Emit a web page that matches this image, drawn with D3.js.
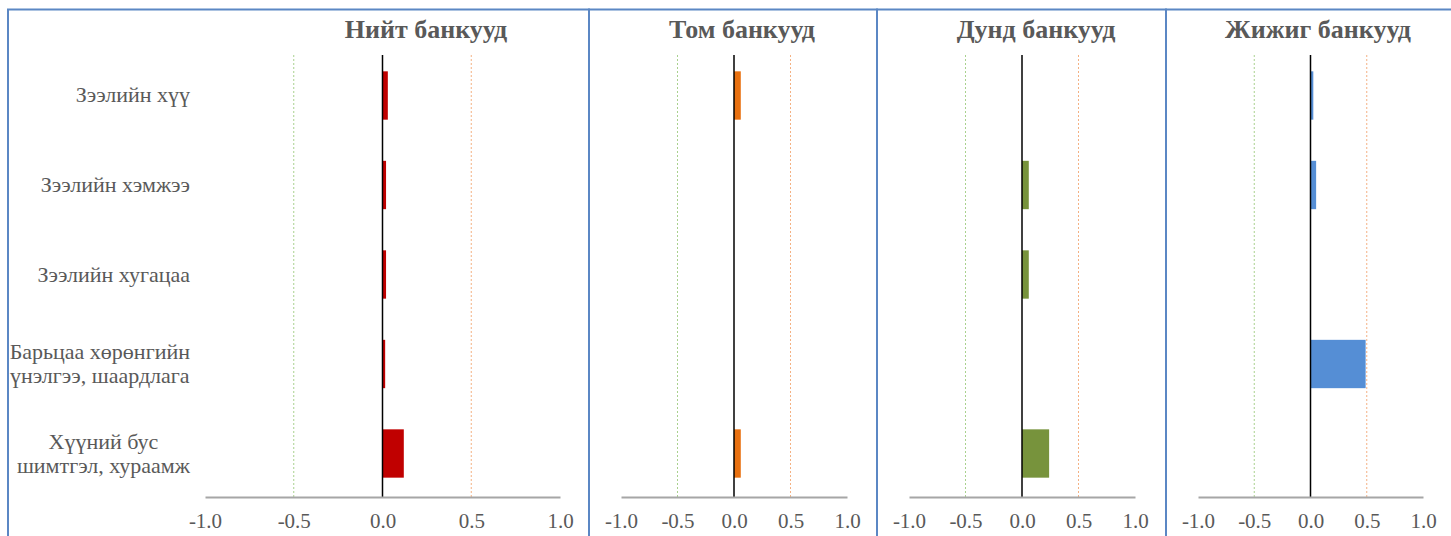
<!DOCTYPE html>
<html><head><meta charset="utf-8">
<script src="https://cdn.jsdelivr.net/npm/d3@7"></script>
<style>body{margin:0;background:#fff}svg{display:block}</style>
</head><body>
<svg id="c" width="1451" height="536"></svg>
<script>
const categories = ["Зээлийн хүү","Зээлийн хэмжээ","Зээлийн хугацаа","Барьцаа хөрөнгийн\nүнэлгээ, шаардлага","Хүүний бус\nшимтгэл, хураамж"];
const seriesNames = ["Нийт банкууд","Том банкууд","Дунд банкууд","Жижиг банкууд"];
const totalBanks  = [0.03, 0.02, 0.02, 0.015, 0.12];
const largeBanks  = [0.06, 0, 0, 0, 0.06];
const mediumBanks = [0, 0.06, 0.06, 0, 0.24];
const smallBanks  = [0.025, 0.05, 0, 0.49, 0];
const tickValues = [-1, -0.5, 0, 0.5, 1];
const tickLabels = ["-1.0","-0.5","0.0","0.5","1.0"];

const colors = ["#c00000","#e8700f","#77933c","#558ed5"];
const panels = [
  {name: seriesNames[0], values: totalBanks,  color: colors[0], range:[205,560], box:[8,589],   titleX:426},
  {name: seriesNames[1], values: largeBanks,  color: colors[1], range:[621,847], box:[589,877], titleX:742},
  {name: seriesNames[2], values: mediumBanks, color: colors[2], range:[909,1135], box:[877,1166], titleX:1036},
  {name: seriesNames[3], values: smallBanks,  color: colors[3], range:[1198,1423], box:[1166,1460], titleX:1318}
];

const svg = d3.select("#c");
const plotTop = 55, plotBottom = 497;
const y = d3.scaleBand().domain(categories).range([52, plotBottom]).paddingInner(0.46).paddingOuter(0.216);
const serif = "'Liberation Serif','Times New Roman',serif";

panels.forEach(p => {
  svg.append("rect").attr("x", p.box[0]).attr("y", 9.5).attr("width", p.box[1]-p.box[0]).attr("height", 600)
    .attr("fill","none").attr("stroke","#5b87c4").attr("stroke-width",2);
});

panels.forEach(p => {
  const x = d3.scaleLinear().domain([-1,1]).range(p.range);
  const g = svg.append("g");
  g.append("line").attr("x1", x(-0.5)).attr("x2", x(-0.5)).attr("y1", plotTop).attr("y2", plotBottom)
    .attr("stroke","#a9d18e").attr("stroke-width",1).attr("stroke-dasharray","2,2");
  g.append("line").attr("x1", x(0.5)).attr("x2", x(0.5)).attr("y1", plotTop).attr("y2", plotBottom)
    .attr("stroke","#f4b183").attr("stroke-width",1).attr("stroke-dasharray","2,2");
  g.selectAll("rect.bar").data(p.values.map((v,i)=>({v, c:categories[i]}))).join("rect")
    .attr("class","bar")
    .attr("x", d => x(Math.min(0,d.v))).attr("width", d => Math.abs(x(d.v)-x(0)))
    .attr("y", d => y(d.c)).attr("height", y.bandwidth())
    .attr("fill", p.color);
  g.append("line").attr("x1", x(0)).attr("x2", x(0)).attr("y1", plotTop).attr("y2", plotBottom)
    .attr("stroke","#000").attr("stroke-width",1.5);
  const ax = g.append("g").attr("transform", `translate(0,${plotBottom})`)
    .call(d3.axisBottom(x).tickValues(tickValues).tickSize(0).tickPadding(16)
      .tickFormat((d,i)=>tickLabels[i]));
  ax.select(".domain").attr("stroke","#a6a6a6").attr("stroke-width",2);
  ax.selectAll("text").attr("font-family", serif).attr("font-size", 21).attr("fill","#595959");
  svg.append("text").attr("x", p.titleX).attr("y", 38).attr("text-anchor","middle")
    .attr("font-family", serif).attr("font-weight","bold").attr("font-size", 26).attr("fill","#595959")
    .text(p.name);
});

const labelRight = 190;
categories.forEach(c => {
  const lines = c.split("\n");
  const t = svg.append("text").attr("font-family", serif).attr("font-size", 22).attr("fill","#595959")
    .attr("text-anchor","middle");
  const lh = 24;
  const cy = y(c) + y.bandwidth()/2;
  lines.forEach((l,i) => {
    t.append("tspan").attr("y", cy - (lines.length-1)*lh/2 + i*lh + 7).text(l);
  });
  let maxW = 0;
  t.selectAll("tspan").each(function(){ maxW = Math.max(maxW, this.getComputedTextLength()); });
  t.selectAll("tspan").attr("x", labelRight - maxW/2);
});
</script>
</body></html>
